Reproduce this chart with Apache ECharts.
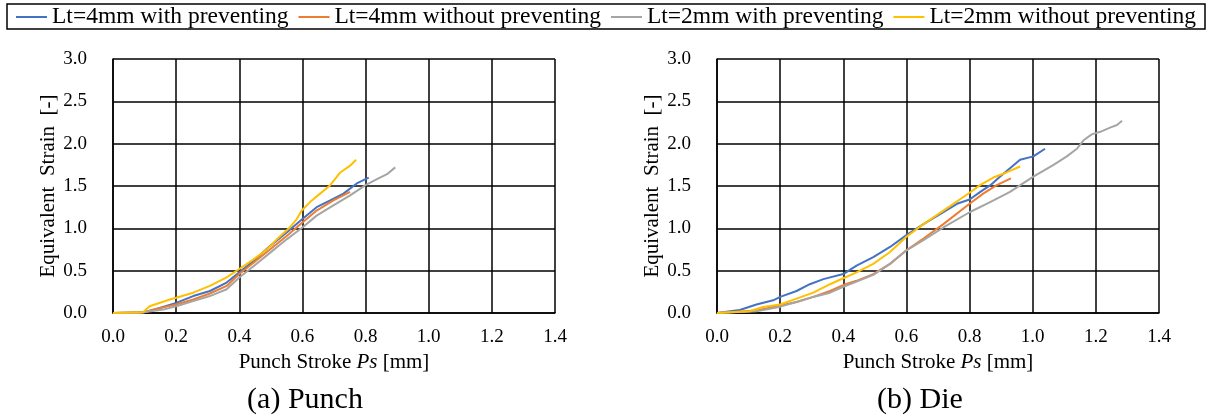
<!DOCTYPE html>
<html><head><meta charset="utf-8">
<script src="https://cdn.jsdelivr.net/npm/echarts@6/dist/echarts.min.js"></script>
<style>html,body{margin:0;padding:0;background:#fff}#c{width:1210px;height:420px}</style>
</head><body><div id="c"></div>
<script>
var seriesNames = ['Lt=4mm with preventing','Lt=4mm without preventing','Lt=2mm with preventing','Lt=2mm without preventing'];
var colors = ['#4472C4','#ED7D31','#A5A5A5','#FFC000'];
var xTicks = [0,0.2,0.4,0.6,0.8,1.0,1.2,1.4];
var yTicks = [0,0.5,1.0,1.5,2.0,2.5,3.0];
var captions = ['(a) Punch','(b) Die'];

var punchBlue = [[0,0],[0.1,0.01],[0.148,0.06],[0.2,0.12],[0.254,0.2],[0.307,0.26],[0.36,0.36],[0.4,0.48],[0.444,0.61],[0.497,0.79],[0.55,0.95],[0.6,1.11],[0.645,1.25],[0.688,1.33],[0.73,1.41],[0.772,1.53],[0.81,1.6]];
var punchOrange = [[0,0],[0.1,0.01],[0.127,0.04],[0.2,0.1],[0.254,0.16],[0.307,0.23],[0.36,0.32],[0.4,0.46],[0.444,0.59],[0.497,0.75],[0.55,0.91],[0.6,1.07],[0.645,1.21],[0.698,1.33],[0.751,1.43]];
var punchGray = [[0,0],[0.08,0],[0.159,0.04],[0.2,0.08],[0.254,0.14],[0.307,0.2],[0.36,0.28],[0.4,0.42],[0.444,0.55],[0.497,0.71],[0.55,0.87],[0.6,1.01],[0.645,1.15],[0.698,1.27],[0.751,1.39],[0.8,1.51],[0.836,1.58],[0.868,1.64],[0.894,1.72]];
var punchYellow = [[0,0],[0.095,0.01],[0.116,0.08],[0.18,0.16],[0.2,0.18],[0.254,0.24],[0.307,0.32],[0.36,0.42],[0.4,0.52],[0.444,0.63],[0.487,0.75],[0.519,0.87],[0.56,1.01],[0.582,1.11],[0.598,1.21],[0.624,1.31],[0.656,1.41],[0.688,1.51],[0.72,1.66],[0.751,1.74],[0.77,1.81]];

var dieBlue = [[0,0],[0.072,0.035],[0.125,0.1],[0.178,0.15],[0.2,0.19],[0.252,0.26],[0.294,0.34],[0.337,0.4],[0.4,0.46],[0.442,0.56],[0.495,0.66],[0.548,0.78],[0.6,0.92],[0.654,1.05],[0.717,1.19],[0.76,1.29],[0.8,1.34],[0.834,1.43],[0.866,1.51],[0.896,1.61],[0.928,1.71],[0.96,1.81],[1.002,1.85],[1.039,1.94]];
var dieOrange = [[0,0],[0.125,0.03],[0.2,0.09],[0.252,0.13],[0.305,0.19],[0.358,0.26],[0.4,0.33],[0.442,0.38],[0.495,0.46],[0.548,0.58],[0.6,0.74],[0.654,0.88],[0.717,1.05],[0.8,1.29],[0.843,1.41],[0.886,1.51],[0.931,1.59]];
var dieGray = [[0,0],[0.125,0.02],[0.2,0.075],[0.252,0.13],[0.305,0.19],[0.358,0.24],[0.4,0.31],[0.442,0.37],[0.495,0.45],[0.548,0.58],[0.6,0.74],[0.654,0.86],[0.717,1.01],[0.8,1.19],[0.865,1.31],[0.928,1.43],[1.002,1.61],[1.066,1.75],[1.108,1.85],[1.14,1.94],[1.161,2.04],[1.187,2.11],[1.214,2.14],[1.245,2.19],[1.267,2.22],[1.283,2.27]];
var dieYellow = [[0,0],[0.104,0.02],[0.146,0.07],[0.2,0.1],[0.252,0.17],[0.305,0.24],[0.358,0.34],[0.4,0.41],[0.442,0.48],[0.495,0.58],[0.548,0.72],[0.6,0.9],[0.654,1.05],[0.717,1.21],[0.8,1.42],[0.833,1.51],[0.875,1.6],[0.917,1.66],[0.96,1.73]];

var FONT = 'Liberation Serif';
var panels = [[punchBlue,punchOrange,punchGray,punchYellow],[dieBlue,dieOrange,dieGray,dieYellow]];
var grids = [{left:113, top:59, width:442, height:254},{left:717, top:59, width:442, height:254}];

function xAxis(i){
  return {gridIndex:i, type:'value', min:xTicks[0], max:xTicks[xTicks.length-1], interval:0.2,
    axisLine:{show:true, lineStyle:{color:'#000', width:1.5}}, axisTick:{show:false},
    splitLine:{show:true, lineStyle:{color:'#000', width:1.5}},
    axisLabel:{color:'#000', fontFamily:FONT, fontSize:19, margin:15, formatter:function(v){return v.toFixed(1);}},
    name:'{n|Punch Stroke }{i|Ps}{n| [mm]}', nameLocation:'middle', nameGap:34,
    nameTextStyle:{rich:{n:{fontFamily:FONT, fontSize:21, color:'#000'}, i:{fontFamily:FONT, fontSize:21, fontStyle:'italic', color:'#000'}}}
  };
}
function yAxis(i){
  return {gridIndex:i, type:'value', min:yTicks[0], max:yTicks[yTicks.length-1], interval:0.5,
    axisLine:{show:true, lineStyle:{color:'#000', width:1.5}}, axisTick:{show:false},
    splitLine:{show:true, lineStyle:{color:'#000', width:1.5}},
    axisLabel:{color:'#000', fontFamily:FONT, fontSize:19, margin:26, formatter:function(v){return v.toFixed(1);}},
    name:'Equivalent  Strain  [-]', nameLocation:'middle', nameGap:50,
    nameTextStyle:{fontFamily:FONT, fontSize:21, color:'#000'}
  };
}
var series = [];
panels.forEach(function(p, gi){
  p.forEach(function(d, si){
    series.push({type:'line', name:seriesNames[si], xAxisIndex:gi, yAxisIndex:gi, data:d,
      showSymbol:false, symbol:'none', smooth:false, lineStyle:{color:colors[si], width:2}, itemStyle:{color:colors[si]}, z:3+si, animation:false});
  });
});
var chart = echarts.init(document.getElementById('c'), null, {renderer:'canvas'});
chart.setOption({
  animation:false,
  color:colors,
  grid:grids,
  xAxis:[xAxis(0), xAxis(1)],
  yAxis:[yAxis(0), yAxis(1)],
  legend:{data:seriesNames, left:16, top:5, padding:0, itemGap:10, itemWidth:31, itemHeight:2, icon:'rect',
    textStyle:{fontFamily:FONT, fontSize:23.5, color:'#000'}},
  graphic:[
    {type:'rect', shape:{x:7, y:4, width:1198, height:25}, style:{fill:'none', stroke:'#000', lineWidth:1.5}, silent:true},
    {type:'text', x:305, y:400, style:{text:captions[0], font:'30px "Liberation Serif"', fill:'#000', textAlign:'center', textVerticalAlign:'middle'}},
    {type:'text', x:920, y:400, style:{text:captions[1], font:'30px "Liberation Serif"', fill:'#000', textAlign:'center', textVerticalAlign:'middle'}}
  ],
  series:series
});
</script></body></html>
